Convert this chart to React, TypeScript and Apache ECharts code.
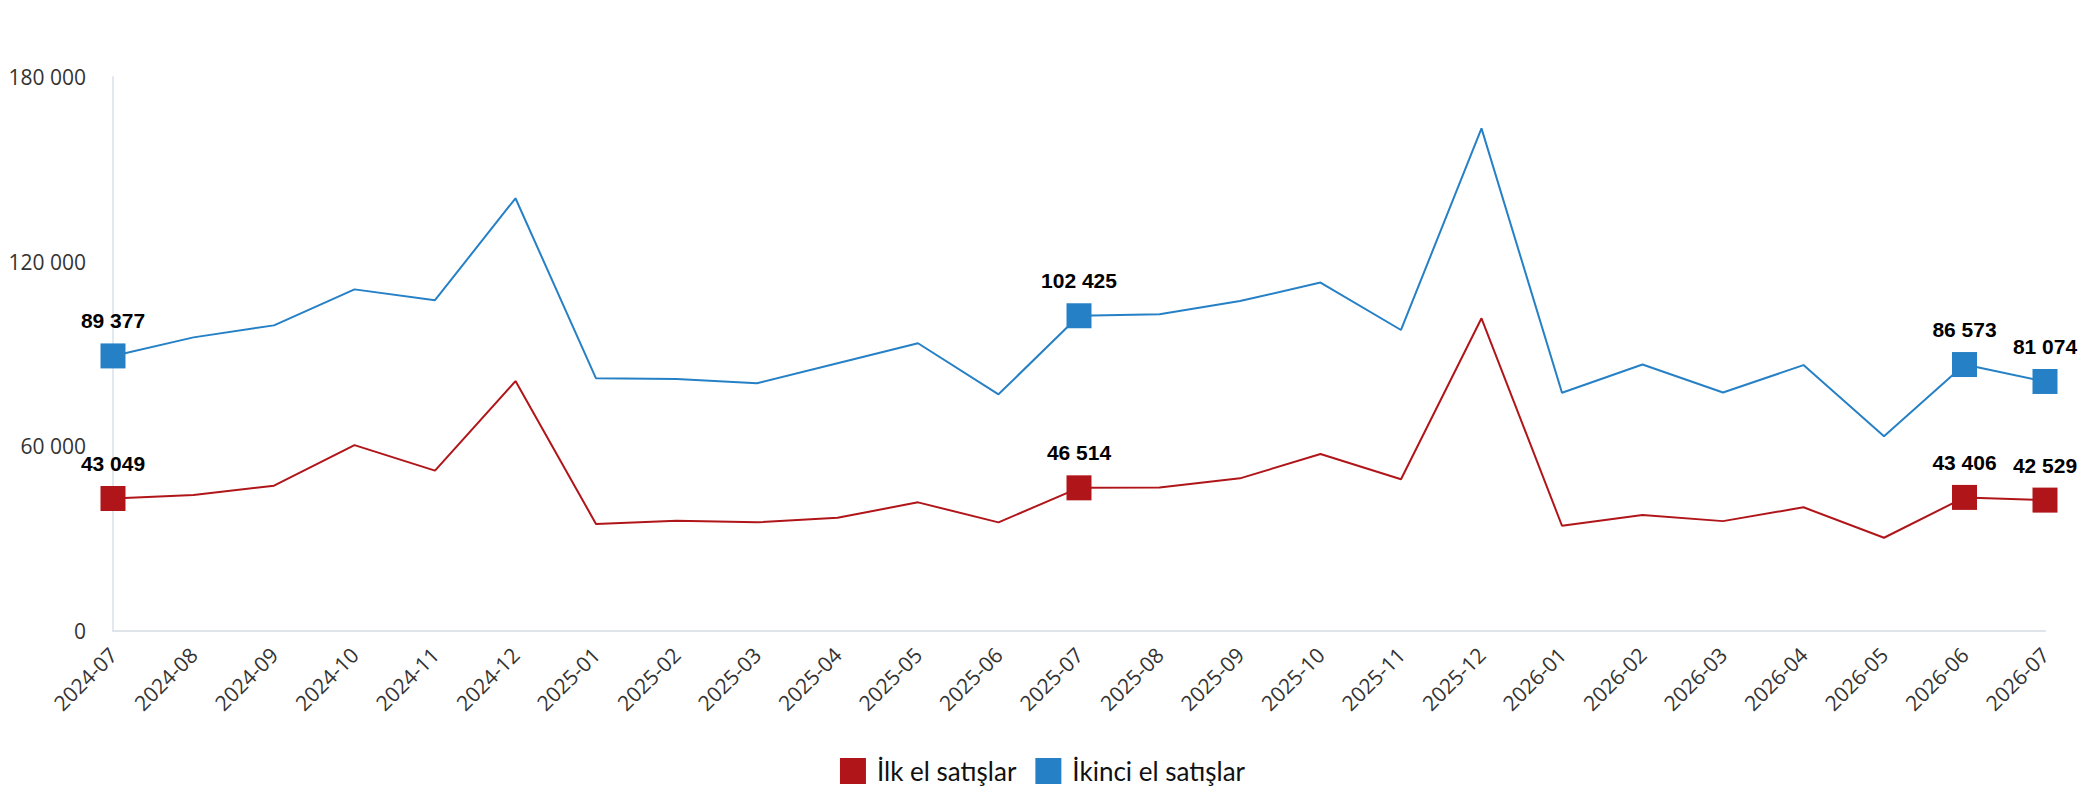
import React, { useEffect, useRef } from "react";
import * as echarts from "echarts";

const categories = [
  "2024-07", "2024-08", "2024-09", "2024-10", "2024-11", "2024-12",
  "2025-01", "2025-02", "2025-03", "2025-04", "2025-05", "2025-06",
  "2025-07", "2025-08", "2025-09", "2025-10", "2025-11", "2025-12",
  "2026-01", "2026-02", "2026-03", "2026-04", "2026-05", "2026-06", "2026-07",
];

const firstHandSales = [
  43049, 44200, 47200, 60400, 52100, 81200,
  34800, 35800, 35300, 36800, 41800, 35300,
  46514, 46600, 49600, 57500, 49300, 101600,
  34200, 37700, 35700, 40200, 30300, 43406, 42529,
];

const secondHandSales = [
  89377, 95400, 99300, 111000, 107500, 140600,
  82100, 81900, 80500, 87000, 93500, 76900,
  102425, 102900, 107200, 113200, 97800, 163300,
  77400, 86600, 77500, 86400, 63300, 86573, 81074,
];

const highlightedIndices = [0, 12, 23, 24];

const seriesNames = ["İlk el satışlar", "İkinci el satışlar"];
const seriesColors = ["#b01519", "#2680c6"];

const fmt = (v: number) => String(Math.round(v)).replace(/\B(?=(\d{3})+(?!\d))/g, " ");

function buildData(values: number[]) {
  return values.map((v, i) =>
    highlightedIndices.includes(i)
      ? { value: v, symbol: "rect", symbolSize: 25, label: { show: true } }
      : { value: v, symbol: "none", label: { show: false } }
  );
}

export default function App() {
  const ref = useRef<HTMLDivElement>(null);

  useEffect(() => {
    document.body.style.margin = "0";
    if (!ref.current) return;
    const chart = echarts.init(ref.current, undefined, { renderer: "svg" });
    const mkSeries = (name: string, color: string, values: number[]) => ({
      name,
      type: "line",
      data: buildData(values),
      showSymbol: true,
      lineStyle: { color, width: 2 },
      itemStyle: { color },
      label: {
        position: "top",
        distance: 12,
        formatter: (p: any) => fmt(p.value),
        fontFamily: "Liberation Sans",
        fontWeight: "bold",
        fontSize: 21,
        color: "#000",
      },
      emphasis: { disabled: true },
    });
    chart.setOption({
      animation: false,
      backgroundColor: "#fff",
      grid: {
        left: 113,
        right: 40,
        top: 77,
        bottom: 169,
        containLabel: false,
        outerBoundsMode: "none",
      },
      legend: {
        top: 753,
        left: "center",
        icon: "rect",
        itemWidth: 26,
        itemHeight: 26,
        itemGap: 19,
        data: seriesNames,
        textStyle: {
          fontFamily: "Lato",
          fontSize: 26,
          color: "#111",
          padding: [0, 0, 0, 6],
        },
      },
      xAxis: {
        type: "category",
        data: categories,
        boundaryGap: false,
        axisLine: { show: true, lineStyle: { color: "#dfe3ea", width: 2 } },
        axisTick: { show: false },
        splitLine: { show: false },
        axisLabel: {
          rotate: 45,
          margin: 20,
          interval: 0,
          fontFamily: "Open Sans",
          fontSize: 21,
          color: "#333",
        },
      },
      yAxis: {
        type: "value",
        min: 0,
        max: 180000,
        interval: 60000,
        axisLine: { show: true, lineStyle: { color: "#e3e7ef", width: 2 } },
        axisTick: { show: false },
        splitLine: { show: false },
        axisLabel: {
          margin: 27,
          formatter: (v: number) => fmt(v),
          fontFamily: "Open Sans",
          fontSize: 21,
          color: "#333",
        },
      },
      series: [
        mkSeries(seriesNames[0], seriesColors[0], firstHandSales),
        mkSeries(seriesNames[1], seriesColors[1], secondHandSales),
      ],
    });
    return () => chart.dispose();
  }, []);

  return <div ref={ref} style={{ width: 2085, height: 800 }} />;
}
